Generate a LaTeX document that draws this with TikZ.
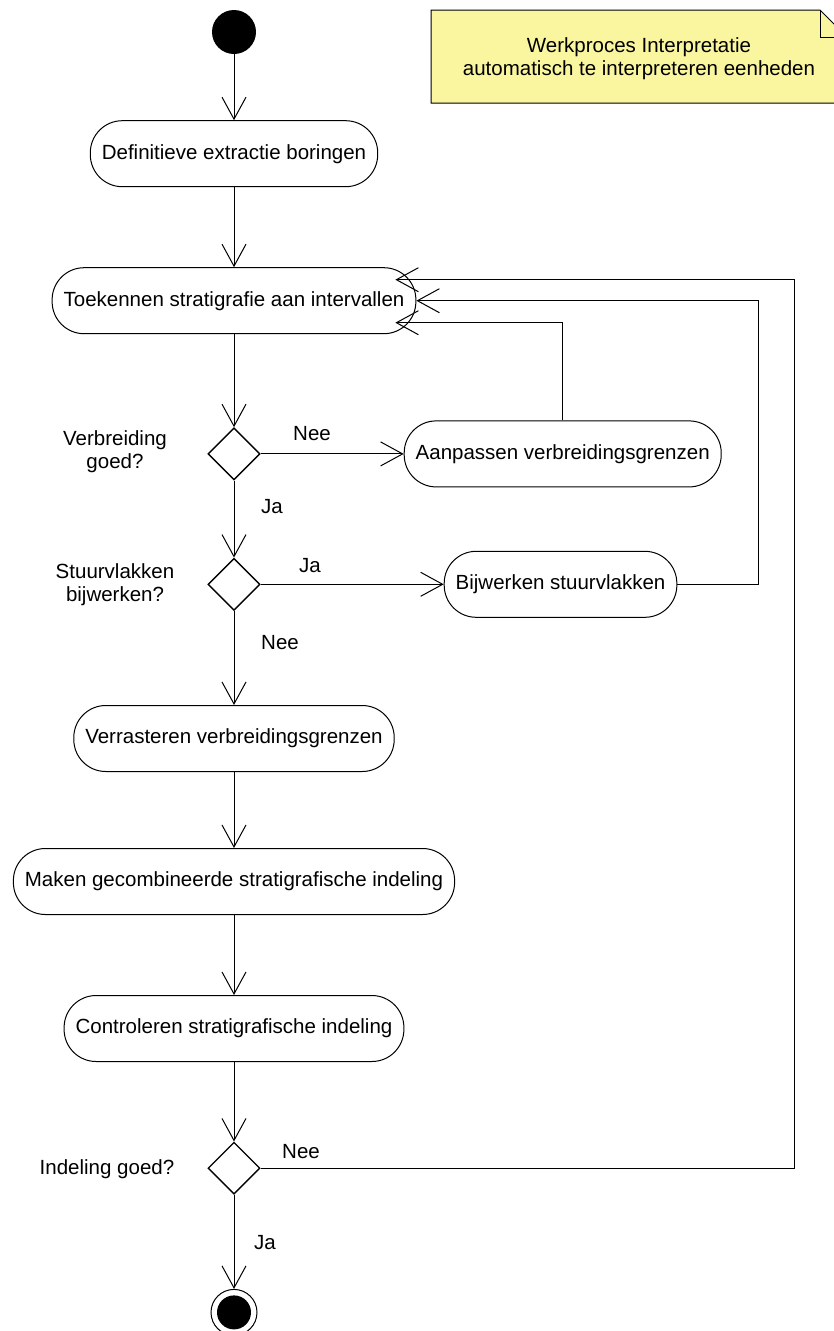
\documentclass[tikz,border=0pt]{standalone}
\usepackage{fontspec}
\setmainfont{Liberation Sans}
\usepackage{xcolor}
\usepackage{tikz}
\usetikzlibrary{shapes.geometric, arrows.meta, positioning}

\definecolor{notegeel}{RGB}{250,246,160}

\begin{document}
\begin{tikzpicture}[
  x=1pt, y=-1pt,
  font=\fontsize{20.5}{23}\selectfont,
  act/.style={draw, fill=white, line width=1pt, rounded corners=32pt,
              minimum height=66pt, inner xsep=11.5pt, align=center},
  keuze/.style={draw, diamond, line width=1.4pt, minimum width=52pt,
                minimum height=52pt, inner sep=0pt},
  begin/.style={circle, fill=black, minimum size=44pt, inner sep=0pt},
  eind/.style={circle, draw, line width=1pt, minimum size=46pt, inner sep=0pt,
               path picture={\fill (path picture bounding box.center) circle (17pt);}},
  lbl/.style={inner sep=0pt, align=center},
  flow/.style={-{Straight Barb[length=22pt,width=24pt]}, line width=1pt},
]
\useasboundingbox (0,0) rectangle (833,1331);

% notitie rechtsboven
\draw[fill=notegeel, line width=1pt] (431,10) -- (820,10) -- (847,37) -- (847,103) -- (431,103) -- cycle;
\draw[line width=1pt] (820,10) -- (820,37) -- (847,37);
\node[lbl] (notitie) at (639,59) {Werkproces Interpretatie\\automatisch te interpreteren eenheden};

% hoofdlijn
\node[begin] (start) at (234,32) {};
\node[act, below=66pt of start]        (extractie)   {Definitieve extractie boringen};
\node[act, below=80pt of extractie]    (toekennen)   {Toekennen stratigrafie aan intervallen};
\node[keuze, below=93pt of toekennen]  (verbreiding) {};
\node[keuze, below=77pt of verbreiding] (stuur)      {};
\node[act, below=94pt of stuur]        (verrasteren) {Verrasteren verbreidingsgrenzen};
\node[act, below=76pt of verrasteren]  (maken)       {Maken gecombineerde stratigrafische indeling};
\node[act, below=80pt of maken]        (controleren) {Controleren stratigrafische indeling};
\node[keuze, below=79.5pt of controleren] (indeling) {};
\node[eind, below=94pt of indeling]    (einde)       {};

% zijtakken
\node[act, right=143pt of verbreiding] (aanpassen) {Aanpassen verbreidingsgrenzen};
\node[act, right=183pt of stuur]       (bijwerken) {Bijwerken stuurvlakken};

% vragen en keuzes
\node[lbl] (vraag1) at (115,452)  {Verbreiding\\goed?};
\node[lbl] (vraag2) at (115,585)  {Stuurvlakken\\bijwerken?};
\node[lbl] (vraag3) at (107,1169) {Indeling goed?};
\node[lbl] (nee1) at (312,434)  {Nee};
\node[lbl] (ja1)  at (272,507)  {Ja};
\node[lbl] (ja2)  at (310,566)  {Ja};
\node[lbl] (nee2) at (280,643)  {Nee};
\node[lbl] (nee3) at (301,1152) {Nee};
\node[lbl] (ja3)  at (265,1243) {Ja};

\draw[flow] (start) -- (extractie);
\draw[flow] (extractie) -- (toekennen);
\draw[flow] (toekennen) -- (verbreiding);
\draw[flow] (verbreiding) -- (aanpassen);
\draw[flow] (verbreiding) -- (stuur);
\draw[flow] (stuur) -- (bijwerken);
\draw[flow] (stuur) -- (verrasteren);
\draw[flow] (verrasteren) -- (maken);
\draw[flow] (maken) -- (controleren);
\draw[flow] (controleren) -- (indeling);
\draw[flow] (indeling) -- (einde);

% terugkoppelingen
\draw[flow] (aanpassen.north) |- ([xshift=-21pt,yshift=-22pt]toekennen.east);
\draw[flow] (bijwerken.east) -- ++(81,0) |- (toekennen.east);
\draw[flow] (indeling.east) -- ++(534,0) |- ([xshift=-21pt,yshift=21pt]toekennen.east);
\end{tikzpicture}
\end{document}
